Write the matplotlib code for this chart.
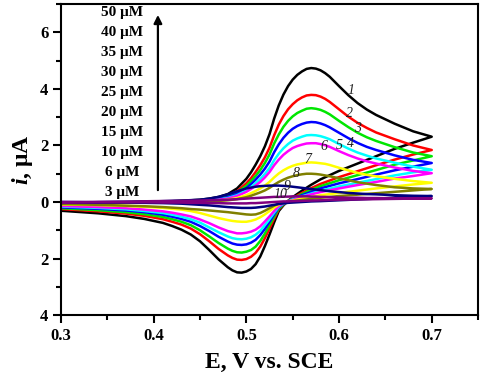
import matplotlib
matplotlib.use("Agg")
import matplotlib.pyplot as plt
from matplotlib.ticker import MultipleLocator

plt.rcParams['font.family'] = ['Liberation Serif', 'DejaVu Serif']
plt.rcParams['mathtext.fontset'] = 'custom'
plt.rcParams['mathtext.it'] = 'Liberation Serif:italic:bold'
plt.rcParams['mathtext.rm'] = 'Liberation Serif:bold'

# Potential grids (V vs. SCE)
E_fwd = [0.30, 0.35, 0.40, 0.43, 0.45, 0.46, 0.47, 0.48, 0.49, 0.50, 0.505, 0.51,
         0.515, 0.52, 0.525, 0.53, 0.535, 0.54, 0.545, 0.55, 0.555, 0.56, 0.565,
         0.57, 0.575, 0.58, 0.585, 0.59, 0.60, 0.61, 0.62, 0.63, 0.64, 0.66, 0.68, 0.70]
E_rev = [0.70, 0.68, 0.66, 0.64, 0.62, 0.60, 0.58, 0.57, 0.56, 0.55, 0.545, 0.54,
         0.535, 0.53, 0.525, 0.52, 0.515, 0.51, 0.505, 0.50, 0.495, 0.49, 0.485,
         0.48, 0.47, 0.46, 0.45, 0.44, 0.43, 0.42, 0.41, 0.39, 0.37, 0.34, 0.30]

# Forward (anodic) sweep currents, uA
i_fwd_1 = [-0.05, -0.02, 0.00, 0.04, 0.08, 0.12, 0.18, 0.28, 0.48, 0.82, 1.05, 1.32,
           1.62, 1.97, 2.40, 2.95, 3.42, 3.80, 4.10, 4.33, 4.50, 4.62, 4.71,
           4.74, 4.72, 4.66, 4.56, 4.43, 4.10, 3.78, 3.50, 3.27, 3.08, 2.77, 2.50, 2.31]
i_fwd_2 = [-0.05, -0.02, 0.00, 0.03, 0.06, 0.10, 0.14, 0.22, 0.38, 0.66, 0.84, 1.06,
           1.30, 1.58, 1.92, 2.36, 2.74, 3.04, 3.28, 3.46, 3.60, 3.70, 3.77,
           3.79, 3.78, 3.73, 3.65, 3.54, 3.28, 3.02, 2.80, 2.62, 2.46, 2.22, 2.00, 1.84]
i_fwd_3 = [-0.05, -0.02, 0.00, 0.03, 0.06, 0.08, 0.13, 0.20, 0.34, 0.57, 0.74, 0.92,
           1.13, 1.38, 1.68, 2.07, 2.39, 2.66, 2.87, 3.03, 3.15, 3.23, 3.30,
           3.32, 3.30, 3.26, 3.19, 3.10, 2.87, 2.65, 2.45, 2.29, 2.16, 1.94, 1.75, 1.62]
i_fwd_4 = [-0.05, -0.02, 0.00, 0.02, 0.05, 0.07, 0.11, 0.17, 0.29, 0.49, 0.63, 0.79,
           0.97, 1.18, 1.43, 1.76, 2.04, 2.27, 2.45, 2.59, 2.69, 2.76, 2.81,
           2.83, 2.82, 2.78, 2.72, 2.64, 2.45, 2.26, 2.09, 1.95, 1.84, 1.65, 1.49, 1.38]
i_fwd_5 = [-0.05, -0.02, 0.00, 0.02, 0.04, 0.06, 0.09, 0.14, 0.24, 0.41, 0.53, 0.66,
           0.81, 0.99, 1.20, 1.48, 1.71, 1.90, 2.05, 2.17, 2.25, 2.31, 2.36,
           2.37, 2.36, 2.33, 2.28, 2.22, 2.05, 1.89, 1.75, 1.64, 1.54, 1.39, 1.25, 1.14]
i_fwd_6 = [-0.05, -0.02, 0.00, 0.02, 0.04, 0.05, 0.08, 0.12, 0.21, 0.36, 0.46, 0.58,
           0.71, 0.87, 1.06, 1.30, 1.50, 1.67, 1.80, 1.91, 1.98, 2.03, 2.07,
           2.08, 2.08, 2.05, 2.01, 1.95, 1.80, 1.66, 1.54, 1.44, 1.36, 1.22, 1.10, 1.02]
i_fwd_7 = [-0.05, -0.02, 0.00, 0.01, 0.02, 0.04, 0.05, 0.08, 0.14, 0.24, 0.31, 0.39,
           0.48, 0.58, 0.71, 0.87, 1.01, 1.12, 1.21, 1.28, 1.33, 1.36, 1.39,
           1.40, 1.39, 1.37, 1.35, 1.31, 1.21, 1.12, 1.03, 0.96, 0.91, 0.82, 0.74, 0.68]
i_fwd_8 = [-0.04, -0.02, 0.00, 0.01, 0.02, 0.03, 0.04, 0.06, 0.10, 0.17, 0.22, 0.28,
           0.34, 0.41, 0.50, 0.61, 0.71, 0.79, 0.86, 0.91, 0.95, 0.98, 1.00,
           1.00, 0.99, 0.97, 0.94, 0.91, 0.84, 0.77, 0.70, 0.65, 0.60, 0.52, 0.48, 0.46]
i_fwd_9 = [-0.03, 0.00, 0.02, 0.05, 0.08, 0.12, 0.18, 0.27, 0.38, 0.48, 0.51, 0.54,
           0.56, 0.57, 0.58, 0.58, 0.58, 0.57, 0.56, 0.54, 0.52, 0.50, 0.48,
           0.46, 0.44, 0.42, 0.40, 0.38, 0.35, 0.32, 0.30, 0.28, 0.27, 0.24, 0.22, 0.21]
i_fwd_10 = [-0.02, 0.00, 0.03, 0.04, 0.05, 0.06, 0.07, 0.08, 0.10, 0.12, 0.13, 0.14,
            0.15, 0.16, 0.17, 0.18, 0.18, 0.19, 0.19, 0.20, 0.20, 0.20, 0.20,
            0.19, 0.19, 0.18, 0.18, 0.17, 0.16, 0.15, 0.15, 0.14, 0.14, 0.13, 0.13, 0.13]

# Reverse (cathodic) sweep currents, uA
i_rev_1 = [2.31, 2.10, 1.88, 1.62, 1.36, 1.10, 0.80, 0.61, 0.40, 0.17, 0.04, -0.12,
           -0.32, -0.72, -1.15, -1.56, -1.93, -2.20, -2.37, -2.46, -2.50, -2.49, -2.42,
           -2.31, -2.03, -1.70, -1.39, -1.15, -0.98, -0.85, -0.74, -0.60, -0.50, -0.40, -0.31]
i_rev_2 = [1.84, 1.68, 1.50, 1.30, 1.09, 0.88, 0.64, 0.49, 0.32, 0.14, 0.03, -0.10,
           -0.26, -0.59, -0.94, -1.28, -1.58, -1.80, -1.94, -2.02, -2.05, -2.04, -1.98,
           -1.89, -1.66, -1.39, -1.14, -0.94, -0.80, -0.70, -0.61, -0.49, -0.41, -0.33, -0.25]
i_rev_3 = [1.62, 1.47, 1.32, 1.13, 0.95, 0.77, 0.56, 0.43, 0.28, 0.12, 0.03, -0.09,
           -0.23, -0.52, -0.82, -1.12, -1.38, -1.58, -1.70, -1.76, -1.79, -1.78, -1.73,
           -1.65, -1.45, -1.22, -1.00, -0.82, -0.70, -0.61, -0.53, -0.43, -0.36, -0.29, -0.22]
i_rev_4 = [1.38, 1.25, 1.12, 0.97, 0.81, 0.66, 0.48, 0.36, 0.24, 0.10, 0.02, -0.07,
           -0.19, -0.44, -0.70, -0.95, -1.17, -1.34, -1.44, -1.50, -1.52, -1.51, -1.47,
           -1.40, -1.23, -1.03, -0.85, -0.70, -0.60, -0.52, -0.45, -0.36, -0.30, -0.24, -0.19]
i_rev_5 = [1.14, 1.05, 0.94, 0.81, 0.68, 0.55, 0.40, 0.30, 0.20, 0.09, 0.02, -0.06,
           -0.17, -0.38, -0.61, -0.82, -1.02, -1.16, -1.25, -1.30, -1.32, -1.31, -1.28,
           -1.22, -1.07, -0.90, -0.73, -0.61, -0.52, -0.45, -0.39, -0.32, -0.26, -0.21, -0.16]
i_rev_6 = [1.02, 0.92, 0.83, 0.71, 0.60, 0.48, 0.35, 0.27, 0.18, 0.07, 0.02, -0.05,
           -0.14, -0.32, -0.51, -0.69, -0.86, -0.98, -1.05, -1.09, -1.11, -1.11, -1.07,
           -1.03, -0.90, -0.75, -0.62, -0.51, -0.44, -0.38, -0.33, -0.27, -0.22, -0.18, -0.14]
i_rev_7 = [0.68, 0.62, 0.55, 0.48, 0.40, 0.32, 0.24, 0.18, 0.12, 0.05, 0.01, -0.03,
           -0.09, -0.20, -0.32, -0.44, -0.54, -0.62, -0.67, -0.70, -0.70, -0.69, -0.67,
           -0.64, -0.57, -0.48, -0.39, -0.32, -0.27, -0.24, -0.21, -0.17, -0.14, -0.11, -0.09]
i_rev_8 = [0.46, 0.41, 0.36, 0.31, 0.26, 0.21, 0.15, 0.11, 0.07, 0.03, 0.01, -0.02,
           -0.06, -0.13, -0.22, -0.31, -0.39, -0.44, -0.45, -0.44, -0.42, -0.40, -0.38,
           -0.36, -0.33, -0.30, -0.27, -0.25, -0.22, -0.20, -0.18, -0.15, -0.13, -0.10, -0.07]
i_rev_9 = [0.21, 0.18, 0.15, 0.12, 0.09, 0.06, 0.03, 0.02, 0.00, -0.02, -0.03, -0.05,
           -0.07, -0.10, -0.13, -0.16, -0.18, -0.20, -0.21, -0.21, -0.21, -0.20, -0.19,
           -0.18, -0.15, -0.12, -0.10, -0.08, -0.06, -0.05, -0.04, -0.03, -0.02, -0.01, 0.00]
i_rev_10 = [0.13, 0.12, 0.11, 0.10, 0.09, 0.08, 0.06, 0.05, 0.04, 0.03, 0.02, 0.02,
            0.01, 0.00, -0.01, -0.02, -0.03, -0.04, -0.04, -0.05, -0.05, -0.05, -0.05,
            -0.05, -0.04, -0.04, -0.03, -0.03, -0.02, -0.02, -0.02, -0.01, -0.01, 0.00, 0.00]

curve_labels = ['1', '2', '3', '4', '5', '6', '7', '8', '9', '10']
curve_colors = ['#000000', '#ff0000', '#00e600', '#0000ff', '#00ffff',
                '#ff00ff', '#ffff00', '#808000', '#000080', '#800080']
label_E = [0.6129, 0.6108, 0.6197, 0.6126, 0.600, 0.5839, 0.5659, 0.5534, 0.5444, 0.5373]
label_i = [3.96, 3.14, 2.61, 2.08, 1.99, 1.96, 1.49, 1.02, 0.54, 0.25]
concentrations = ['50 μM', '40 μM', '35 μM', '30 μM', '25 μM', '20 μM',
                  '15 μM', '10 μM', '6 μM', '3 μM']
conc_y = [6.71, 6.00, 5.30, 4.59, 3.88, 3.17, 2.46, 1.76, 1.05, 0.34]

fwd = [i_fwd_1, i_fwd_2, i_fwd_3, i_fwd_4, i_fwd_5, i_fwd_6, i_fwd_7, i_fwd_8, i_fwd_9, i_fwd_10]
rev = [i_rev_1, i_rev_2, i_rev_3, i_rev_4, i_rev_5, i_rev_6, i_rev_7, i_rev_8, i_rev_9, i_rev_10]

fig = plt.figure(figsize=(4.8, 3.8), dpi=100)
ax = fig.add_axes([0.127, 0.171, 0.869, 0.818])

for f, r, c in zip(fwd, rev, curve_colors):
    ax.plot(E_fwd + E_rev[1:], f + r[1:], color=c, lw=1.8,
            solid_joinstyle='round', solid_capstyle='round')

for lab, x, y in zip(curve_labels, label_E, label_i):
    ax.text(x, y, lab, fontsize=10, style='italic', ha='center', va='center',
            color='#222222')

for t, y in zip(concentrations, conc_y):
    ax.text(0.3658, y, t, fontsize=11, fontweight='bold', ha='center', va='center')

ax.annotate('', xy=(0.4046, 6.62), xytext=(0.4046, 0.42),
            arrowprops=dict(arrowstyle='-|>', color='black', lw=1.6,
                            mutation_scale=12, shrinkA=0, shrinkB=0))

ax.set_xlim(0.3, 0.75)
ax.set_ylim(-4, 7)
ax.set_xticks([0.3, 0.4, 0.5, 0.6, 0.7])
ax.set_xticklabels(['0.3', '0.4', '0.5', '0.6', '0.7'])
ax.set_yticks([-4, -2, 0, 2, 4, 6])
ax.set_yticklabels(['4', '2', '0', '2', '4', '6'])
ax.xaxis.set_minor_locator(MultipleLocator(0.05))
ax.yaxis.set_minor_locator(MultipleLocator(1))
ax.tick_params(which='major', direction='out', length=6, width=1.5,
               labelsize=12, pad=3)
ax.tick_params(which='minor', direction='out', length=3.5, width=1.5)
for lab in ax.get_xticklabels() + ax.get_yticklabels():
    lab.set_fontweight('bold')
for s in ax.spines.values():
    s.set_linewidth(1.5)

ax.set_xlabel('E, V vs. SCE', fontsize=17, fontweight='bold', labelpad=6)
ax.set_ylabel(r'$i$, μA', fontsize=17, fontweight='bold', labelpad=4)

fig.savefig('out.png', dpi=100)
